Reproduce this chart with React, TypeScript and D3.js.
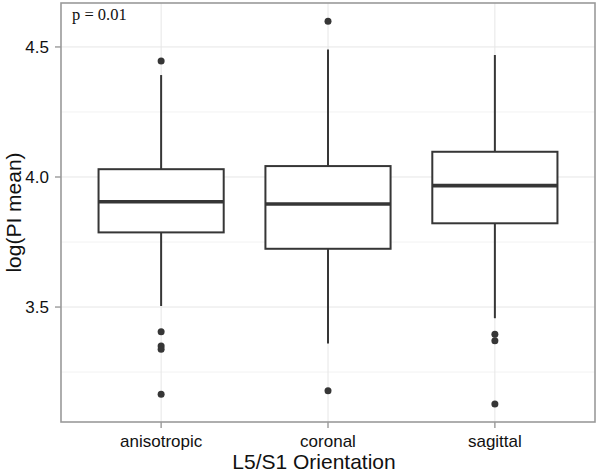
import React from "react";
import * as d3 from "d3";

const W = 600;
const H = 472;
const margin = { top: 3, right: 5, bottom: 50, left: 61 };

// categories and box statistics
const groups = ["anisotropic", "coronal", "sagittal"];
const q1 = [3.787, 3.724, 3.822];
const medians = [3.905, 3.896, 3.967];
const q3 = [4.03, 4.042, 4.097];
const whiskerLow = [3.504, 3.36, 3.457];
const whiskerHigh = [4.392, 4.49, 4.469];
const outliers = [
  [4.446, 3.405, 3.35, 3.338, 3.165],
  [4.599, 3.178],
  [3.395, 3.37, 3.127],
];
const yTicks = [3.5, 4.0, 4.5];
const yMinor = [3.25, 3.75, 4.25];

const boxColor = "#363636";

export default function App() {
  const x0 = margin.left;
  const x1 = W - margin.right;
  const y0 = margin.top;
  const y1 = H - margin.bottom;

  // ggplot style discrete scale: positions 1..n with 0.6 expansion
  const xScale = d3
    .scaleLinear()
    .domain([0.4, groups.length + 0.6])
    .range([x0, x1]);
  const yScale = d3.scaleLinear().domain([3.058, 4.669]).range([y1, y0]);
  const halfW = xScale(1.375) - xScale(1);

  return (
    <svg
      width={W}
      height={H}
      style={{ position: "absolute", left: 0, top: 0, background: "#fff" }}
    >
      <rect x={0} y={0} width={W} height={H} fill="#fff" />
      {/* grid */}
      <g>
        {yMinor.map((v) => (
          <line
            key={"m" + v}
            x1={x0}
            x2={x1}
            y1={yScale(v)}
            y2={yScale(v)}
            stroke="#f2f2f2"
            strokeWidth={1}
          />
        ))}
        {yTicks.map((v) => (
          <line
            key={"g" + v}
            x1={x0}
            x2={x1}
            y1={yScale(v)}
            y2={yScale(v)}
            stroke="#e6e6e6"
            strokeWidth={1}
          />
        ))}
        {groups.map((g, i) => (
          <line
            key={"vg" + g}
            x1={xScale(i + 1)}
            x2={xScale(i + 1)}
            y1={y0}
            y2={y1}
            stroke="#e6e6e6"
            strokeWidth={1}
          />
        ))}
      </g>

      {/* boxes */}
      {groups.map((g, i) => {
        const cx = xScale(i + 1);
        return (
          <g key={g}>
            <line
              x1={cx}
              x2={cx}
              y1={yScale(q3[i])}
              y2={yScale(whiskerHigh[i])}
              stroke={boxColor}
              strokeWidth={2}
            />
            <line
              x1={cx}
              x2={cx}
              y1={yScale(q1[i])}
              y2={yScale(whiskerLow[i])}
              stroke={boxColor}
              strokeWidth={2}
            />
            <rect
              x={cx - halfW}
              y={yScale(q3[i])}
              width={halfW * 2}
              height={yScale(q1[i]) - yScale(q3[i])}
              fill="#fff"
              stroke={boxColor}
              strokeWidth={2}
            />
            <line
              x1={cx - halfW}
              x2={cx + halfW}
              y1={yScale(medians[i])}
              y2={yScale(medians[i])}
              stroke={boxColor}
              strokeWidth={3.6}
            />
            {outliers[i].map((v, j) => (
              <circle
                key={j}
                cx={cx}
                cy={yScale(v)}
                r={3.5}
                fill={boxColor}
              />
            ))}
          </g>
        );
      })}

      {/* panel border */}
      <rect
        x={x0}
        y={y0}
        width={x1 - x0}
        height={y1 - y0}
        fill="none"
        stroke="#9a9a9a"
        strokeWidth={1.6}
      />

      {/* axes */}
      <g fontFamily="Liberation Sans, Arial, sans-serif" fontSize={17} fill="#111">
        {yTicks.map((v) => (
          <g key={"t" + v}>
            <line
              x1={x0 - 6}
              x2={x0}
              y1={yScale(v)}
              y2={yScale(v)}
              stroke="#9a9a9a"
              strokeWidth={1.4}
            />
            <text x={x0 - 12} y={yScale(v)} dy="0.36em" textAnchor="end">
              {d3.format(".1f")(v)}
            </text>
          </g>
        ))}
        {groups.map((g, i) => (
          <g key={"xt" + g}>
            <line
              x1={xScale(i + 1)}
              x2={xScale(i + 1)}
              y1={y1}
              y2={y1 + 6}
              stroke="#9a9a9a"
              strokeWidth={1.4}
            />
            <text x={xScale(i + 1)} y={y1 + 25} textAnchor="middle">
              {g}
            </text>
          </g>
        ))}
        <text x={(x0 + x1) / 2 - 14} y={H - 3} textAnchor="middle" fontSize={21}>
          L5/S1 Orientation
        </text>
        <text
          transform={`translate(21,${(y0 + y1) / 2}) rotate(-90)`}
          textAnchor="middle"
          fontSize={21}
        >
          log(PI mean)
        </text>
      </g>

      <text
        x={72}
        y={20}
        fontFamily="Liberation Serif, Times New Roman, serif"
        fontSize={16.5}
        fill="#111"
      >
        p = 0.01
      </text>
    </svg>
  );
}
